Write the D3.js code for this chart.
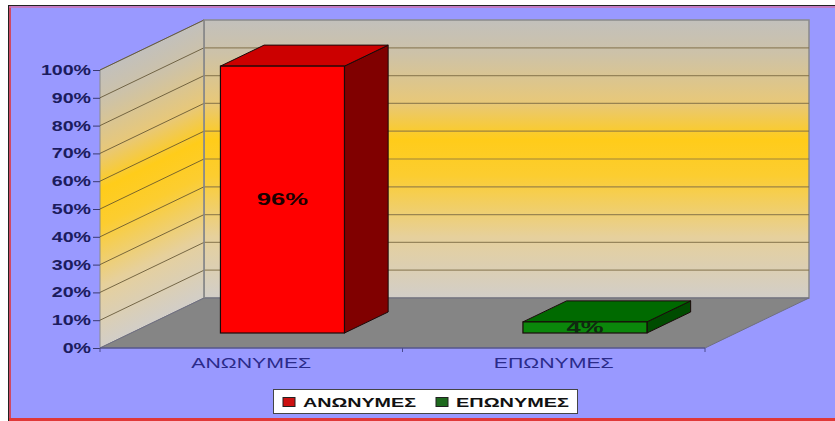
<!DOCTYPE html>
<html>
<head>
<meta charset="utf-8">
<script src="https://cdn.jsdelivr.net/npm/d3@7"></script>
<style>
  body { margin: 0; background: #fff; }
  svg { display: block; font-family: Arial, "Liberation Sans", sans-serif; }
</style>
</head>
<body>
<svg id="chart" width="835" height="421"></svg>
<script>
// chart data
var categories = ["ΑΝΩΝΥΜΕΣ", "ΕΠΩΝΥΜΕΣ"];
var values = [0.96, 0.04];
var valueLabels = ["96%", "4%"];
var yTicks = [0, 0.1, 0.2, 0.3, 0.4, 0.5, 0.6, 0.7, 0.8, 0.9, 1.0];
var barFront = ["#ff0000", "#0b870b"];
var barTop = ["#cc0000", "#006a00"];
var barSide = ["#800000", "#004c00"];
var legendColors = ["#cc1111", "#1e6a1e"];

var width = 835, height = 421;
var svg = d3.select("#chart");

// 3d depth offset of the plot box
var depthX = 104, depthY = -50;
var stretch = 1.4; // the picture text is wide

var x = d3.scaleBand().domain(categories).range([100, 705]).padding(0);
var y = d3.scaleLinear().domain([0, 1]).range([348, 70]);
var z = d3.scaleLinear().domain([0, 1]).range([0, 1]);

function ox(d) { return z(d) * depthX; }
function oy(d) { return z(d) * depthY; }

// background + border
svg.append("rect").attr("x", 9).attr("y", 6).attr("width", width - 9).attr("height", 412).attr("fill", "#9999ff");
svg.append("line").attr("x1", 8.5).attr("x2", 8.5).attr("y1", 5).attr("y2", 421).attr("stroke", "#222");
svg.append("line").attr("x1", 10).attr("x2", 10).attr("y1", 6).attr("y2", 421).attr("stroke", "#e03030").attr("stroke-width", 1.5);
svg.append("line").attr("x1", 8).attr("x2", width).attr("y1", 5.5).attr("y2", 5.5).attr("stroke", "#222");
svg.append("line").attr("x1", 9).attr("x2", width).attr("y1", 7).attr("y2", 7).attr("stroke", "#d070b0").attr("stroke-width", 1.5);
svg.append("rect").attr("x", 9).attr("y", 418).attr("width", width - 9).attr("height", 3).attr("fill", "#e03838");

// gradients
var defs = svg.append("defs");
function wallGradient(id, x1, y1, x2, y2) {
    var g = defs.append("linearGradient").attr("id", id)
        .attr("gradientUnits", "userSpaceOnUse")
        .attr("x1", x1).attr("y1", y1).attr("x2", x2).attr("y2", y2);
    g.append("stop").attr("offset", 0).attr("stop-color", "#c2c0bc");
    g.append("stop").attr("offset", 0.12).attr("stop-color", "#cdc2a8");
    g.append("stop").attr("offset", 0.3).attr("stop-color", "#e8c878");
    g.append("stop").attr("offset", 0.43).attr("stop-color", "#ffcc1a");
    g.append("stop").attr("offset", 0.56).attr("stop-color", "#fccd30");
    g.append("stop").attr("offset", 0.78).attr("stop-color", "#e6d09c");
    g.append("stop").attr("offset", 1).attr("stop-color", "#d2cec8");
}
wallGradient("backGrad", 0, y(1) + depthY, 0, y(0) + depthY);
// left wall: gradient perpendicular to the slanted grid lines
var len = Math.sqrt(depthX * depthX + depthY * depthY);
var nx = -depthY / len, ny = depthX / len;
var proj = (y(0) - y(1)) * ny;
wallGradient("leftGrad", x.range()[0], y(1), x.range()[0] + proj * nx, y(1) + proj * ny);

var x0 = x.range()[0], x1 = x.range()[1];

// back wall
svg.append("rect")
    .attr("x", x0 + depthX).attr("y", y(1) + depthY)
    .attr("width", x1 - x0).attr("height", y(0) - y(1))
    .attr("fill", "url(#backGrad)").attr("stroke", "#8a8a8a").attr("stroke-width", 1.5);

// left wall
svg.append("polygon")
    .attr("points", [[x0, y(1)], [x0 + depthX, y(1) + depthY], [x0 + depthX, y(0) + depthY], [x0, y(0)]].join(" "))
    .attr("fill", "url(#leftGrad)").attr("stroke", "#8a8a8a").attr("stroke-width", 1);

// floor
svg.append("polygon")
    .attr("points", [[x0, y(0)], [x1, y(0)], [x1 + depthX, y(0) + depthY], [x0 + depthX, y(0) + depthY]].join(" "))
    .attr("fill", "#858585").attr("stroke", "#6f6f80").attr("stroke-width", 1);

// grid lines
var grid = yTicks.filter(function(d) { return d > 0 && d < 1; });
svg.append("g").selectAll("line").data(grid).enter().append("line")
    .attr("x1", x0 + depthX).attr("x2", x1 + depthX)
    .attr("y1", function(d) { return y(d) + depthY; })
    .attr("y2", function(d) { return y(d) + depthY; })
    .attr("stroke", "#7d6c44").attr("stroke-opacity", 0.75).attr("stroke-width", 1.2);
svg.append("g").selectAll("line").data(grid.concat([1])).enter().append("line")
    .attr("x1", x0).attr("x2", x0 + depthX)
    .attr("y1", function(d) { return y(d); })
    .attr("y2", function(d) { return y(d) + depthY; })
    .attr("stroke", "#5a4c2c").attr("stroke-opacity", 0.8).attr("stroke-width", 1);
svg.append("line")
    .attr("x1", x0 + depthX).attr("x2", x0 + depthX).attr("y1", y(1) + depthY).attr("y2", y(0) + depthY)
    .attr("stroke", "#8a8a8a").attr("stroke-width", 1.5);

// bars
var barW = x.bandwidth() * 0.41;
var zFront = 0.3, zBack = 0.72;
var bars = svg.append("g").selectAll("g").data(values).enter().append("g");
bars.each(function(v, i) {
    var g = d3.select(this);
    var c = x(categories[i]) + x.bandwidth() / 2;
    var bx0 = c - barW / 2 + ox(zFront), bx1 = c + barW / 2 + ox(zFront);
    var yt = y(v) + oy(zFront), yb = y(0) + oy(zFront);
    var ddx = ox(zBack) - ox(zFront), ddy = oy(zBack) - oy(zFront);
    g.append("polygon")
        .attr("points", [[bx1, yt], [bx1 + ddx, yt + ddy], [bx1 + ddx, yb + ddy], [bx1, yb]].join(" "))
        .attr("fill", barSide[i]).attr("stroke", "#1a0a0a").attr("stroke-width", 1);
    g.append("polygon")
        .attr("points", [[bx0, yt], [bx1, yt], [bx1 + ddx, yt + ddy], [bx0 + ddx, yt + ddy]].join(" "))
        .attr("fill", barTop[i]).attr("stroke", "#1a0a0a").attr("stroke-width", 1);
    g.append("rect")
        .attr("x", bx0).attr("y", yt).attr("width", bx1 - bx0).attr("height", yb - yt)
        .attr("fill", barFront[i]).attr("stroke", "#1a0a0a").attr("stroke-width", 1.2);
    var t = g.append("text")
        .attr("x", (bx0 + bx1) / 2).attr("y", (yt + yb) / 2)
        .attr("dy", "0.36em")
        .attr("text-anchor", "middle")
        .attr("font-size", 16).attr("font-weight", "bold")
        .attr("fill", i == 0 ? "#1a0000" : "#0f2a0f")
        .text(valueLabels[i]);
    t.attr("textLength", t.node().getComputedTextLength() * 1.6).attr("lengthAdjust", "spacingAndGlyphs");
});

// y axis
var yAxis = svg.append("g")
    .attr("transform", "translate(" + x0 + ",0)")
    .call(d3.axisLeft(y).tickValues(yTicks).tickFormat(d3.format(".0%")).tickSize(7).tickPadding(2));
yAxis.select(".domain").remove();
yAxis.selectAll("line").attr("stroke", "#3a3a70");
yAxis.selectAll("text")
    .attr("font-size", 14).attr("font-weight", "bold")
    .attr("font-family", "Arial, 'Liberation Sans', sans-serif")
    .attr("fill", "#1c1c5e")
    .each(function() {
        var t = d3.select(this);
        t.attr("textLength", this.getComputedTextLength() * stretch).attr("lengthAdjust", "spacingAndGlyphs");
    });

// category axis
svg.append("line").attr("x1", x0).attr("x2", x1).attr("y1", y(0)).attr("y2", y(0))
    .attr("stroke", "#4a4a90").attr("stroke-width", 1);
var xAxis = svg.append("g")
    .attr("transform", "translate(0," + y(0) + ")")
    .call(d3.axisBottom(x).tickSize(0).tickPadding(9));
xAxis.select(".domain").remove();
xAxis.selectAll("text")
    .attr("font-size", 15)
    .attr("font-family", "Arial, 'Liberation Sans', sans-serif")
    .attr("fill", "#2b2b8a")
    .each(function() {
        d3.select(this).attr("textLength", 120).attr("lengthAdjust", "spacingAndGlyphs");
    });
svg.append("g").selectAll("line").data([x0, x0 + x.bandwidth(), x1]).enter().append("line")
    .attr("x1", function(d) { return d; }).attr("x2", function(d) { return d; })
    .attr("y1", y(0)).attr("y2", y(0) + 4)
    .attr("stroke", "#4a4a90");

// legend
var legend = svg.append("g");
legend.append("rect").attr("x", 273.5).attr("y", 389.5).attr("width", 304).attr("height", 24)
    .attr("fill", "#fff").attr("stroke", "#444").attr("stroke-width", 1);
var legendX = [283, 436];
categories.forEach(function(c, i) {
    legend.append("rect").attr("x", legendX[i]).attr("y", 397.5).attr("width", 12).attr("height", 9)
        .attr("fill", legendColors[i]).attr("stroke", "#222").attr("stroke-width", 1);
    var t = legend.append("text")
        .attr("x", legendX[i] + 20).attr("y", 402).attr("dy", "0.36em")
        .attr("font-size", 13).attr("font-weight", "bold").attr("fill", "#111")
        .text(c);
    t.attr("textLength", 113).attr("lengthAdjust", "spacingAndGlyphs");
});
</script>
</body>
</html>
